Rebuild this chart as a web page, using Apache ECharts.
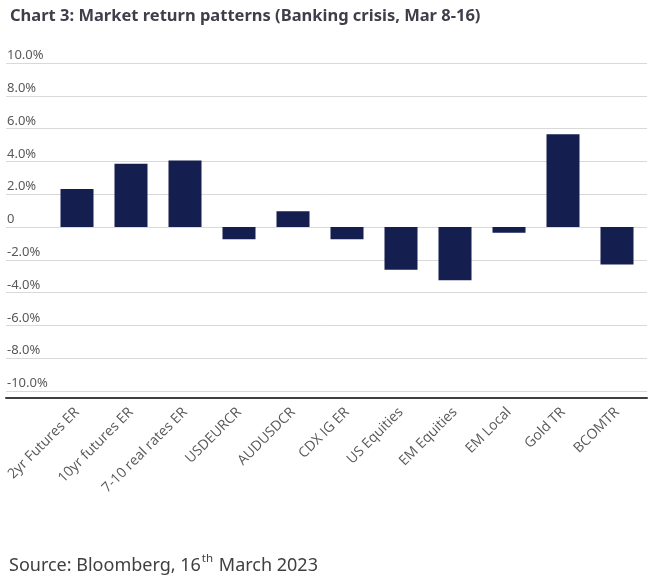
<!DOCTYPE html>
<html>
<head>
<meta charset="utf-8">
<script src="https://cdn.jsdelivr.net/npm/echarts@6/dist/echarts.min.js"></script>
<style>
html,body{margin:0;padding:0;background:#fff;}
#chart{width:656px;height:576px;}
</style>
</head>
<body>
<div id="chart"></div>
<script>
const categories = ['2yr Futures ER','10yr futures ER','7-10 real rates ER','USDEURCR','AUDUSDCR','CDX IG ER','US Equities','EM Equities','EM Local','Gold TR','BCOMTR'];
const values = [2.32, 3.85, 4.06, -0.75, 0.96, -0.75, -2.61, -3.24, -0.35, 5.65, -2.28];
const yMin = -10, yMax = 10, yStep = 2;
const titleText = 'Chart 3: Market return patterns (Banking crisis, Mar 8-16)';

const chart = echarts.init(document.getElementById('chart'), null, {renderer:'canvas'});
const FONT = 'Noto Sans';
chart.setOption({
  backgroundColor:'#ffffff',
  animation:false,
  title:[
    {text:titleText, left:5, top:3,
     textStyle:{fontFamily:FONT, fontSize:16.5, fontWeight:'bold', color:'#3f3f4b'}},
    {text:'{a|Source: Bloomberg, 16}{s|th}{a| March 2023}', left:4, top:548,
     textStyle:{fontWeight:'normal', rich:{
       a:{fontFamily:FONT, fontSize:18, fontWeight:'normal', color:'#404040', lineHeight:25},
       s:{fontFamily:FONT, fontSize:11.5, fontWeight:'normal', color:'#404040', lineHeight:25, verticalAlign:'top', padding:[0,1,10,1]}
     }}}
  ],
  grid:[
    {left:6, right:9, top:63, bottom:185},
    {left:50, right:12, top:63, bottom:185}
  ],
  xAxis:[
    {gridIndex:0, type:'value', min:0, max:1, offset:7,
     axisLine:{show:true, onZero:false, lineStyle:{color:'#404040', width:2}},
     axisTick:{show:false}, axisLabel:{show:false}, splitLine:{show:false}},
    {gridIndex:1, type:'category', data:categories,
     axisLine:{show:false, onZero:false}, axisTick:{show:false},
     axisLabel:{rotate:45, margin:19, interval:0, fontFamily:'Open Sans', fontSize:14, color:'#595959'}}
  ],
  yAxis:[
    {gridIndex:0, type:'value', min:yMin, max:yMax, interval:yStep,
     axisLine:{show:false}, axisTick:{show:false},
     splitLine:{show:true, lineStyle:{color:'#d9d9d9', width:1}},
     axisLabel:{inside:true, margin:1, verticalAlign:'bottom', padding:[0,0,1,0],
       fontFamily:FONT, fontSize:13, color:'#595959',
       formatter:v => v === 0 ? '0' : v.toFixed(1) + '%'}},
    {gridIndex:1, type:'value', min:yMin, max:yMax, interval:yStep, show:false}
  ],
  series:[{
    type:'bar', xAxisIndex:1, yAxisIndex:1, data:values,
    barWidth:33, itemStyle:{color:'#141e4f'}
  }]
});
</script>
</body>
</html>
